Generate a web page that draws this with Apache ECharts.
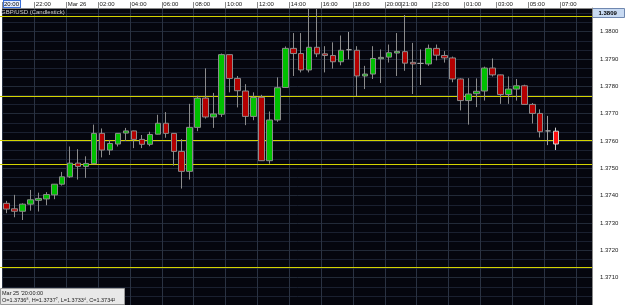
<!DOCTYPE html>
<html>
<head>
<meta charset="utf-8">
<script src="https://cdn.jsdelivr.net/npm/echarts@6/dist/echarts.min.js"></script>
<style>html,body{margin:0;padding:0;background:#fff}#c{width:625px;height:305px}</style>
</head>
<body>
<div id="c"></div>
<script>
// ---- data (30-minute GBP/USD candles, Mar 25 20:00 onward) ----
const open = [1.37372,1.37352,1.37343,1.37369,1.37383,1.37388,1.37403,1.37442,1.37469,1.37519,
1.37507,1.37517,1.37628,1.37567,1.37589,1.37629,1.37637,1.37606,1.37588,1.37625,
1.37665,1.37628,1.37562,1.37489,1.37650,1.37757,1.37688,1.37698,1.37916,1.37829,
1.37783,1.37690,1.37760,1.37528,1.37677,1.37796,1.37939,1.37920,1.37860,1.37943,
1.37919,1.37913,1.37890,1.37934,1.37932,1.37838,1.37845,1.37901,1.37907,1.37922,
1.37927,1.37888,1.37884,1.37882,1.37939,1.37913,1.37904,1.37827,1.37748,1.37773,
1.37783,1.37867,1.37842,1.37770,1.37790,1.37802,1.37734,1.37701,1.37637,1.37636];
const close = [1.37351,1.37343,1.37369,1.37385,1.37390,1.37404,1.37442,1.37469,1.37519,1.37507,
1.37518,1.37628,1.37567,1.37591,1.37628,1.37637,1.37606,1.37588,1.37624,1.37665,
1.37628,1.37562,1.37489,1.37650,1.37757,1.37688,1.37699,1.37916,1.37829,1.37784,
1.37690,1.37759,1.37528,1.37677,1.37795,1.37939,1.37920,1.37860,1.37943,1.37919,
1.37913,1.37890,1.37932,1.37934,1.37838,1.37845,1.37902,1.37906,1.37923,1.37928,
1.37885,1.37882,1.37884,1.37939,1.37914,1.37904,1.37827,1.37748,1.37772,1.37782,
1.37867,1.37842,1.37770,1.37790,1.37802,1.37734,1.37701,1.37634,1.37637,1.37589];
const high = [1.37381,1.37403,1.37372,1.37421,1.37411,1.37413,1.37443,1.37487,1.37580,1.37570,
1.37544,1.37660,1.37646,1.37604,1.37629,1.37648,1.37638,1.37622,1.37634,1.37696,
1.37706,1.37629,1.37607,1.37736,1.37766,1.37866,1.37776,1.37920,1.37917,1.37838,
1.37808,1.37778,1.37769,1.37708,1.37833,1.37946,1.37995,1.37995,1.38083,1.38083,
1.37947,1.37961,1.37986,1.37999,1.37947,1.37875,1.37947,1.37935,1.37953,1.37995,
1.38061,1.37959,1.37935,1.37953,1.37953,1.37929,1.37909,1.37829,1.37830,1.37829,
1.37872,1.37902,1.37843,1.37836,1.37827,1.37806,1.37739,1.37716,1.37692,1.37649];
const low = [1.37336,1.37321,1.37311,1.37345,1.37342,1.37365,1.37387,1.37437,1.37465,1.37459,
1.37465,1.37516,1.37540,1.37549,1.37580,1.37600,1.37574,1.37574,1.37581,1.37624,
1.37612,1.37510,1.37426,1.37459,1.37636,1.37682,1.37648,1.37688,1.37778,1.37723,
1.37658,1.37676,1.37527,1.37517,1.37670,1.37794,1.37838,1.37851,1.37851,1.37907,
1.37851,1.37865,1.37877,1.37899,1.37764,1.37790,1.37827,1.37812,1.37887,1.37838,
1.37857,1.37772,1.37805,1.37875,1.37895,1.37887,1.37815,1.37712,1.37660,1.37724,
1.37748,1.37836,1.37736,1.37736,1.37748,1.37733,1.37664,1.37613,1.37585,1.37567];
const hLines = [1.38058, 1.37765, 1.37602, 1.37517, 1.37140];
const slotCount = 74;
const tickSlots = [0,4,8,12,16,20,24,28,32,36,40,44,48,50,54,58,62,66,70];
const tickLabels = ['20:00','22:00','Mar 26','02:00','04:00','06:00','08:00','10:00','12:00','14:00','16:00','18:00','20:00','21:00','23:00','01:00','03:00','05:00','07:00'];
const symbolName = 'GBP/USD (Candlestick)';
const lastPrice = '1.3809';
const infoDate = "Mar 25 '20:00:00";
const infoOHLC = 'O=1.3736\u2078, H=1.3737\u2077, L=1.3733\u2074, C=1.3734\u00b2';

// ---- build ----
const slots = Array.from({length: slotCount}, (_, i) => String(i));
const bounds = Array.from({length: slotCount + 1}, () => '');
tickSlots.forEach((s, i) => { bounds[s] = tickLabels[i]; });
const isTick = (i) => tickSlots.indexOf(i) >= 0;

const candles = open.map((o, i) => {
  const item = { value: [o, close[i], low[i], high[i]] };
  if (i === open.length - 1) item.itemStyle = { color0: '#ff1010', borderColor0: '#d0d0d0' };
  return item;
});

const FONT = 'Liberation Sans';
const gridLine = '#222a38';

const chart = echarts.init(document.getElementById('c'), null, {renderer: 'canvas'});
chart.setOption({
  animation: false,
  backgroundColor: '#ffffff',
  textStyle: { fontFamily: FONT },
  grid: [{ left: 0, right: 33, top: 8, height: 300.7, show: true, backgroundColor: '#05060e', borderWidth: 0 }],
  xAxis: [
    { type: 'category', gridIndex: 0, data: slots, boundaryGap: true, show: false },
    { type: 'category', gridIndex: 0, data: bounds, boundaryGap: false, position: 'top',
      axisLine: { show: true, lineStyle: { color: '#8a8a8a', width: 1 } },
      axisTick: { show: true, length: 6, interval: (i) => isTick(i), lineStyle: { color: '#8a8a8a' } },
      axisLabel: { show: true, interval: (i) => isTick(i), align: 'left', margin: 1, fontSize: 6, color: '#202020', fontFamily: FONT,
        padding: [0, 0, 0, 1.5],
        formatter: (v, i) => i === 0 ? '{sel|' + v + '}' : v,
        rich: { sel: { fontSize: 6, fontFamily: FONT, color: '#000', backgroundColor: '#e6eeff', borderColor: '#3a6fd8', borderWidth: 1, padding: [0, 1, 0, 0] } } },
      splitLine: { show: true, interval: (i) => i % 4 === 0, lineStyle: { color: '#2a3242', width: 1 } } }
  ],
  yAxis: [{
    type: 'value', gridIndex: 0, min: 1.37, max: 1.380867, interval: 0.001, position: 'right',
    axisLine: { show: true, lineStyle: { color: '#8a8a8a' } },
    axisTick: { show: false },
    axisLabel: { formatter: (v) => v.toFixed(4), fontSize: 6, margin: 8, color: '#202020', fontFamily: FONT, showMinLabel: false, showMaxLabel: false },
    splitLine: { show: true, lineStyle: { color: gridLine, width: 1 } },
    minorTick: { show: false, splitNumber: 3 },
    minorSplitLine: { show: true, lineStyle: { color: '#1a2030', width: 1 } }
  }],
  series: [{
    type: 'candlestick',
    xAxisIndex: 0, yAxisIndex: 0,
    data: candles,
    barWidth: 6,
    z: 3,
    itemStyle: { color: '#00c000', color0: '#b40000', borderColor: '#8c8c8c', borderColor0: '#8c8c8c', borderColorDoji: '#a0a0a0', borderWidth: 1 }
  }]
});

// horizontal price lines, positioned through the y axis scale
const lineEls = hLines.map((v) => {
  const y = Math.round(chart.convertToPixel({ yAxisIndex: 0 }, v)) + 0.5;
  return { type: 'line', z: 1, silent: true, shape: { x1: 0, y1: y, x2: 592, y2: y }, style: { stroke: '#d4d400', lineWidth: 1 } };
});
chart.setOption({
  graphic: lineEls.concat([
    { type: 'text', left: 1, top: 9.5, z: 50, style: { text: symbolName, fill: '#d0d0d0', font: '6px "' + FONT + '"' } },
    { type: 'group', right: 0, top: 8, z: 50, children: [
      { type: 'rect', shape: { x: 0, y: 0, width: 32, height: 9 }, style: { fill: '#c8daf2', stroke: '#7088b0', lineWidth: 1 } },
      { type: 'text', x: 6, y: 1.5, style: { text: lastPrice, fill: '#000', font: 'bold 6px "' + FONT + '"' } }
    ]},
    { type: 'group', left: 0, top: 288, z: 50, children: [
      { type: 'rect', shape: { x: 0.5, y: 0.5, width: 124, height: 16 }, style: { fill: '#e8e8e8', stroke: '#9a9a9a', lineWidth: 1 } },
      { type: 'text', x: 2, y: 2, style: { text: infoDate, fill: '#202020', font: '5.5px "' + FONT + '"' } },
      { type: 'text', x: 2, y: 9.5, style: { text: infoOHLC, fill: '#202020', font: '5.5px "' + FONT + '"' } }
    ]}
  ])
});
</script>
</body>
</html>
